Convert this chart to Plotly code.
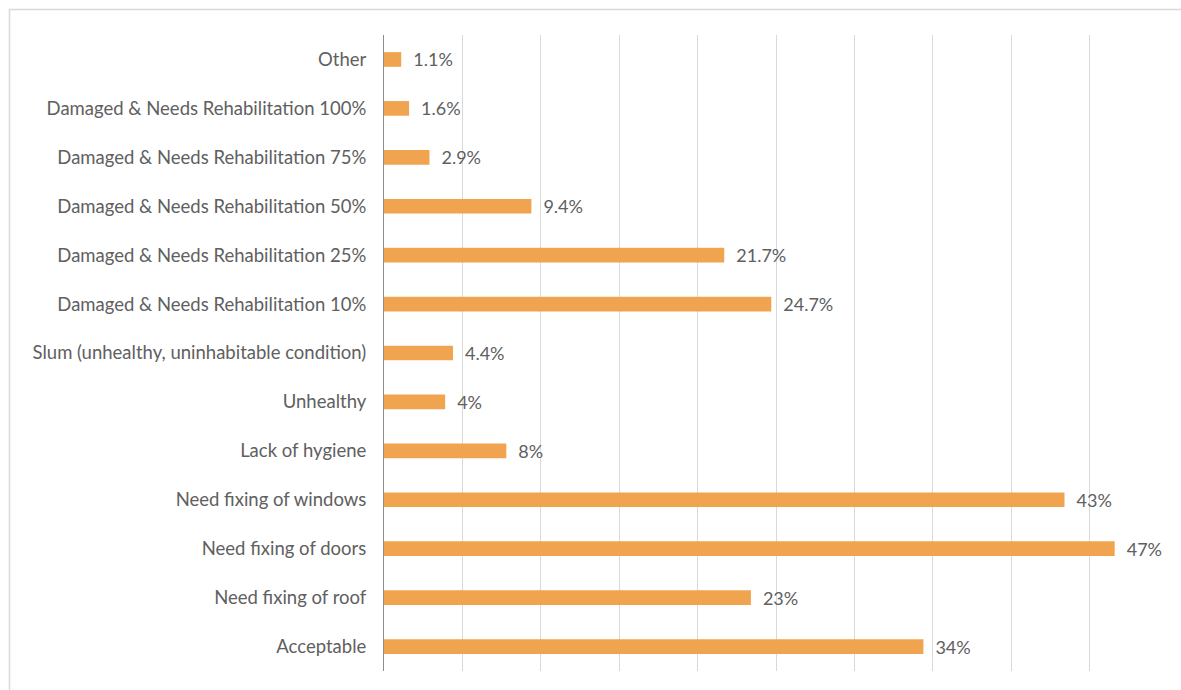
import plotly.graph_objects as go

# top to bottom as shown in the chart
categories = [
    "Other",
    "Damaged & Needs Rehabilitation 100%",
    "Damaged & Needs Rehabilitation 75%",
    "Damaged & Needs Rehabilitation 50%",
    "Damaged & Needs Rehabilitation 25%",
    "Damaged & Needs Rehabilitation 10%",
    "Slum (unhealthy, uninhabitable condition)",
    "Unhealthy",
    "Lack of hygiene",
    "Need fixing of windows",
    "Need fixing of doors",
    "Need fixing of roof",
    "Acceptable",
]
values = [1.1, 1.6, 2.9, 9.4, 21.7, 24.7, 4.4, 3.9, 7.8, 43.4, 46.6, 23.4, 34.4]
labels = ["1.1%", "1.6%", "2.9%", "9.4%", "21.7%", "24.7%", "4.4%", "4%", "8%",
          "43%", "47%", "23%", "34%"]

BAR = "#F1A44F"
TXT = "#606060"
FONT = "Lato"

fig = go.Figure(
    go.Bar(
        y=categories, x=values, orientation="h",
        text=labels, texttemplate="\u2002%{text}", textposition="outside",
        constraintext="none",
        textfont=dict(family=FONT, size=18, color=TXT),
        marker=dict(color=BAR, line=dict(width=0)),
        width=0.3, cliponaxis=False,
        hoverinfo="skip",
    )
)

fig.update_yaxes(
    autorange="reversed",
    showline=True, linecolor="#8C8C8C", linewidth=1,
    showgrid=False, ticks="", ticklabelstandoff=13,
    tickfont=dict(family=FONT, size=18.5, color=TXT),
)
fig.update_xaxes(
    range=[0, 50], tickvals=list(range(0, 50, 5)),
    showticklabels=False, showgrid=True, gridcolor="#D9D9D9", gridwidth=1,
    zeroline=False, showline=False,
)

# chart frame (cropped at right/bottom in the original)
fig.add_shape(type="rect", xref="paper", yref="paper",
              x0=-(384 - 9.5) / 784, x1=1.3, y0=-0.1, y1=1 + (35 - 9.5) / 636,
              line=dict(color="#D9D9D9", width=1.5), layer="below")

fig.update_layout(
    width=1181, height=690,
    margin=dict(l=384, r=13, t=35, b=19),
    plot_bgcolor="white", paper_bgcolor="white",
    showlegend=False, bargap=0.7,
)

fig.write_html("out.html", config={"displayModeBar": False},
               post_script="document.body.style.margin='0';")
